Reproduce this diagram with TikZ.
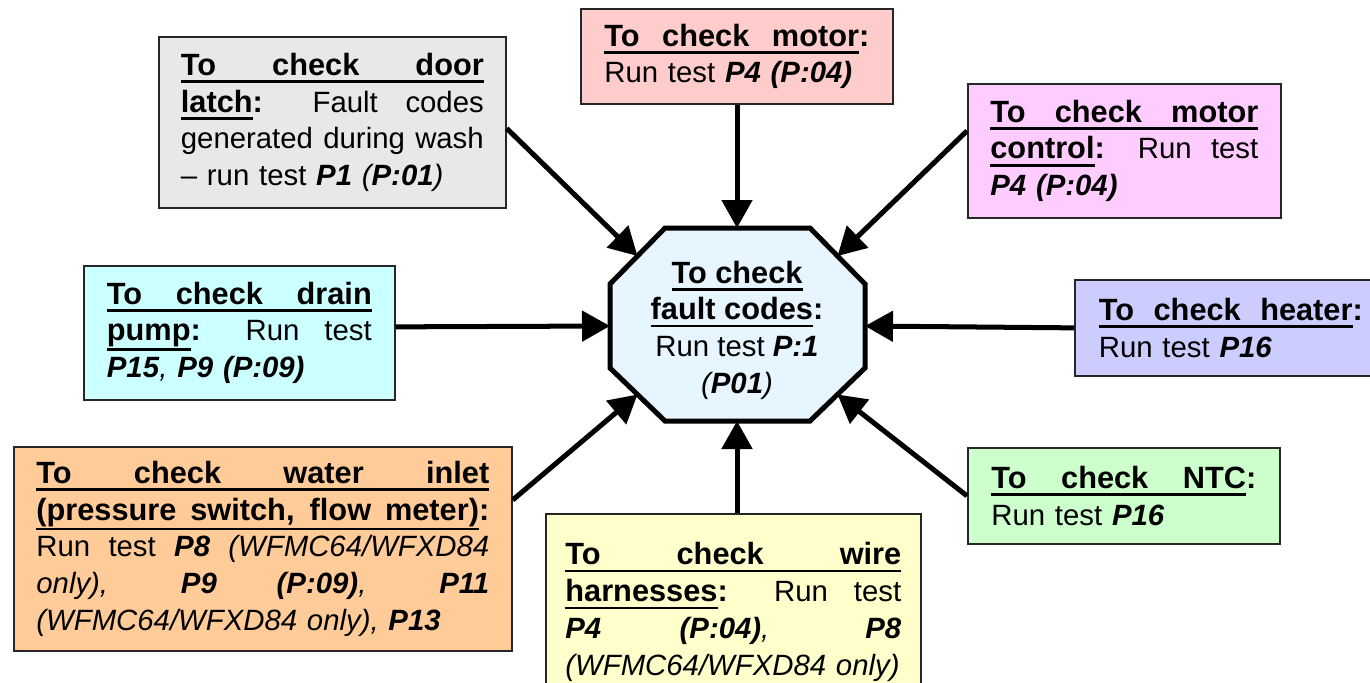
\documentclass[tikz,border=0pt]{standalone}
\usepackage{fontspec}
\setmainfont{Liberation Sans}
\usetikzlibrary{arrows.meta,calc}
\definecolor{latchfill}{HTML}{E8E8E8}
\definecolor{motorfill}{HTML}{FFCCCC}
\definecolor{ctrlfill}{HTML}{FFCCFF}
\definecolor{drainfill}{HTML}{CCFFFF}
\definecolor{heaterfill}{HTML}{CCCCFF}
\definecolor{waterfill}{HTML}{FFCC99}
\definecolor{wirefill}{HTML}{FFFFCC}
\definecolor{ntcfill}{HTML}{CCFFCC}
\definecolor{faultfill}{HTML}{E6F5FF}
\newsavebox\colbox
\newcommand{\bodysize}{\fontsize{16.7}{20.9}\selectfont}
\newcommand{\hd}{\fontsize{17.5}{20.9}\selectfont\bfseries}
\newcommand{\fillsp}{\spaceskip=0pt\xspaceskip=0pt\relax}
\newcommand{\ul}[1]{\leavevmode\vtop{\setbox0\hbox{#1}\ifdim\dp0<2.2pt\dp0=2.2pt\fi\box0\kern0.6pt\hrule height1.5pt}}
\newcommand{\ulfill}[1]{\ul{\makebox[\linewidth][s]{\fillsp\hd #1}}}
\newcommand{\ulcolon}[1]{{\hd\sbox\colbox{:}\ul{\makebox[\dimexpr\linewidth-\wd\colbox\relax][s]{\fillsp #1}}:}}
\newcommand{\jline}[1]{\makebox[\linewidth][s]{\fillsp #1}}
\newcommand{\bi}[1]{\textbf{\textit{#1}}}
\begin{document}
\begin{tikzpicture}[x=0.02cm,y=-0.02cm,
  box/.style={draw=black!85, line width=1pt, anchor=north west, inner sep=0pt, align=left, font=\bodysize},
  octo/.style={draw=black, line width=2.85pt, fill=faultfill, line join=miter},
  arrow/.style={-{Triangle[length=0.56cm, width=0.6cm]}, line width=2.85pt}
]
\useasboundingbox (0,0) rectangle (1370,683);
\node[box, fill=latchfill, minimum width=6.94cm, minimum height=3.42cm, text width=6.06cm] (latch) at (158,36) {\ulfill{To check door}\\
  \jline{{\hd\ul{latch}:} Fault codes}\\
  \jline{generated during wash}\\
  -- run test \bi{P1} \textit{(\textbf{P:01})}};
\node[box, fill=motorfill, minimum width=6.24cm, minimum height=1.9cm, text width=5.3cm] (motor) at (580,8) {\ulcolon{To check motor}\\
  Run test \bi{P4 (P:04)}};
\node[box, fill=ctrlfill, minimum width=6.26cm, minimum height=2.68cm, text width=5.36cm] (motorctl) at (967,83) {\ulfill{To check motor}\\
  \jline{{\hd\ul{control}:} Run test}\\
  \bi{P4 (P:04)}};
\node[box, fill=drainfill, minimum width=6.22cm, minimum height=2.68cm, text width=5.3cm] (drain) at (83,265) {\ulfill{To check drain}\\
  \jline{{\hd\ul{pump}:} Run test}\\
  \bi{P15}\textit{,} \bi{P9 (P:09)}};
\node[box, fill=heaterfill, minimum width=6.24cm, minimum height=1.92cm, text width=5.28cm] (heater) at (1074,279) {\ulcolon{To check heater}\\
  Run test \bi{P16}};
\node[box, fill=waterfill, minimum width=9.96cm, minimum height=4.08cm, text width=9.06cm] (water) at (13,446) {\ulfill{To check water inlet}\\
  \ulcolon{(pressure switch, flow meter)}\\
  \jline{Run test \bi{P8} \textit{(WFMC64/WFXD84}}\\
  \jline{\textit{only),} \bi{P9} \bi{(P:09)}\textit{,} \bi{P11}}\\
  \mbox{\textit{(WFMC64/WFXD84 only),} \bi{P13}}};
\node[box, fill=wirefill, minimum width=7.5cm, minimum height=3.92cm, text width=6.72cm] (wire) at (545,513) {\ulfill{To check wire}\\
  \jline{{\hd\ul{harnesses}:} Run test}\\
  \jline{\bi{P4} \bi{(P:04)}\textit{,} \bi{P8}}\\
  \mbox{\textit{(WFMC64/WFXD84 only)}}};
\node[box, fill=ntcfill, minimum width=6.24cm, minimum height=1.92cm, text width=5.3cm] (ntc) at (967,447) {\ulcolon{To check NTC}\\
  Run test \bi{P16}};
\coordinate (oa) at (665,228);
\coordinate (ob) at (810,228);
\coordinate (oc) at (865,284);
\coordinate (od) at (865,368);
\coordinate (oe) at (810,421);
\coordinate (of) at (665,421);
\coordinate (og) at (610,368);
\coordinate (oh) at (610,284);
\draw[octo] (oa) -- (ob) -- (oc) -- (od) -- (oe) -- (of) -- (og) -- (oh) -- cycle;
\node[font=\bodysize, align=center, inner sep=0pt] (fault) at (737,330) {{\hd\ul{To check}}\\
  {\hd\ul{fault codes}:}\\
  Run test \bi{P:1}\\
  \textit{(\textbf{P01})}};
\coordinate (onw) at ($(oh)!0.5!(oa)$);
\coordinate (one) at ($(ob)!0.5!(oc)$);
\coordinate (ose) at ($(od)!0.5!(oe)$);
\coordinate (osw) at ($(of)!0.5!(og)$);
\coordinate (otop) at (737,228);
\coordinate (obot) at (737,421);
\coordinate (oleft) at (610,326);
\coordinate (oright) at (865,326);
\draw[arrow] ($(latch.east)+(0,6)$) -- (onw);
\draw[arrow] (otop |- motor.south) -- (otop);
\draw[arrow] ($(motorctl.west)+(0,-20)$) -- (one);
\draw[arrow] ($(drain.east)+(0,-6)$) -- (oleft);
\draw[arrow] (heater.west) -- (oright);
\draw[arrow] (ntc.west) -- (ose);
\draw[arrow] (obot |- wire.north) -- (obot);
\draw[arrow] ($(water.north east)+(0,54)$) -- (osw);
\end{tikzpicture}
\end{document}
